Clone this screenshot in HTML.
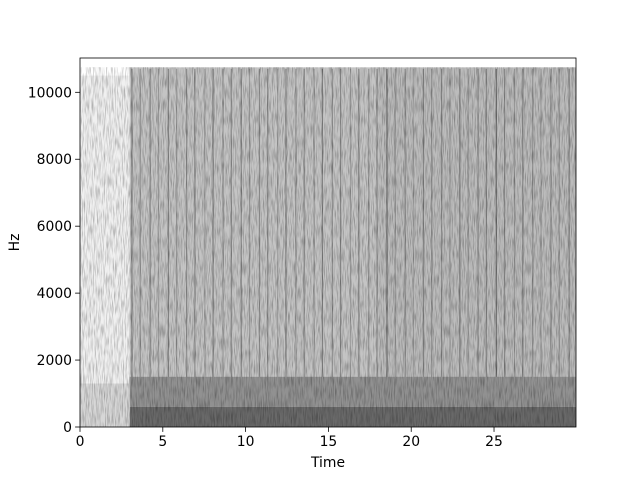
<!DOCTYPE html>
<html><head><meta charset="utf-8"><style>
html,body{margin:0;padding:0;background:#fff;}
svg text{font-family:"DejaVu Sans","Liberation Sans",sans-serif;font-size:13.9px;fill:#000;}
</style></head><body>
<svg id="chart" width="640" height="480" xmlns="http://www.w3.org/2000/svg">
<defs>
<filter id="noise" x="0" y="0" width="100%" height="100%">
<feTurbulence type="fractalNoise" baseFrequency="0.9 0.08" numOctaves="2" seed="3"/>
<feColorMatrix type="matrix" values="0 0 0 0 0  0 0 0 0 0  0 0 0 0 0  0 0 0 -2.2 1.3"/>
</filter>
<clipPath id="plotclip"><rect x="80" y="58" width="496" height="369"/></clipPath>
</defs>
<g id="plot" clip-path="url(#plotclip)"></g>
<g id="axes"></g>
</svg>
<script>
// data
const segTimes = [0, 3.0, 18, 29.95];
const segGray = [240, 196, 188];
const segTopHz = [10500, 10750, 10750];
const onsets = [3.1,3.6,4.2,4.7,5.3,5.8,6.4,6.9,7.5,8.0,8.6,9.1,9.7,10.2,10.8,11.3,11.9,12.4,13.0,13.5,14.1,14.6,15.2,15.7,16.3,16.8,17.4,17.9,18.5,19.0,19.6,20.1,20.7,21.2,21.8,22.3,22.9,23.4,24.0,24.5,25.1,25.6,26.2,26.7,27.3,27.8,28.4,28.9,29.5];
const onsetGray = [130,150,140,160,135,155,145,140,160,130,150,140,135,155,145,140,160,135,150,140,155,130,145,140,160,135,150,140,110,150,140,160,135,145,140,155,130,150,140,135,110,140,150,135,145,155,140,150,135];
const bandHz = [0, 600, 1500];
const bandGray = [105, 145];
const xTicks = [0,5,10,15,20,25];
const yTicks = [0,2000,4000,6000,8000,10000];

const X0=80,X1=576,Y0=427,Y1=58,TMAX=29.95,FMAX=11025;
const xs=t=>X0+(t/TMAX)*(X1-X0);
const ys=f=>Y0-(f/FMAX)*(Y0-Y1);
const NS="http://www.w3.org/2000/svg";
function mk(tag,attrs,parent){const e=document.createElementNS(NS,tag);for(const k in attrs)e.setAttribute(k,attrs[k]);parent.appendChild(e);return e;}
const plotG=document.getElementById('plot'),axesG=document.getElementById('axes');
const gray=v=>`rgb(${v},${v},${v})`;

for(let i=0;i<segGray.length;i++){
  const r=mk('rect',{x:xs(segTimes[i]),y:ys(segTopHz[i]),width:xs(segTimes[i+1])-xs(segTimes[i]),height:ys(0)-ys(segTopHz[i]),fill:gray(segGray[i])},plotG);
  
  
}
for(let i=0;i<onsets.length;i++){
  const l=mk('rect',{x:xs(onsets[i]),y:ys(10700),width:1.2,height:ys(0)-ys(10700),fill:gray(onsetGray[i])},plotG);
  
  
}
for(let i=0;i<bandGray.length;i++){
  const band=mk('rect',{x:xs(segTimes[1]),y:ys(bandHz[i+1]),width:xs(TMAX)-xs(segTimes[1]),height:ys(bandHz[i])-ys(bandHz[i+1]),fill:gray(bandGray[i])},plotG);
  
  
}
const band2=mk('rect',{x:xs(0),y:ys(1300),width:xs(segTimes[1])-xs(0),height:ys(0)-ys(1300),fill:gray(215)},plotG);


const nz=mk('rect',{x:X0,y:Y1,width:X1-X0,height:Y0-Y1,fill:'#fff',filter:'url(#noise)',opacity:0.3},plotG);


const topBand=mk('rect',{x:X0,y:Y1,width:X1-X0,height:ys(10750)-Y1,fill:'#fff'},plotG);



const frame=mk('rect',{x:X0,y:Y1,width:X1-X0,height:Y0-Y1,fill:'none',stroke:'#000','stroke-width':0.8},axesG);


xTicks.forEach(t=>{
  const tk=mk('line',{x1:xs(t),x2:xs(t),y1:Y0,y2:Y0+4.9,stroke:'#000','stroke-width':0.8},axesG);
  
  
  const tx=mk('text',{x:xs(t),y:Y0+19,'text-anchor':'middle'},axesG);tx.textContent=t;
  
  
});
yTicks.forEach(f=>{
  const tk=mk('line',{x1:X0-4.9,x2:X0,y1:ys(f),y2:ys(f),stroke:'#000','stroke-width':0.8},axesG);
  
  
  const tx=mk('text',{x:X0-8,y:ys(f)+5,'text-anchor':'end'},axesG);tx.textContent=f;
  
  
});
const xl=mk('text',{x:(X0+X1)/2,y:467,'text-anchor':'middle'},axesG);xl.textContent='Time';


const yl=mk('text',{x:19,y:(Y0+Y1)/2,'text-anchor':'middle',transform:`rotate(-90 19 ${(Y0+Y1)/2})`},axesG);yl.textContent='Hz';


</script>
</body></html>
